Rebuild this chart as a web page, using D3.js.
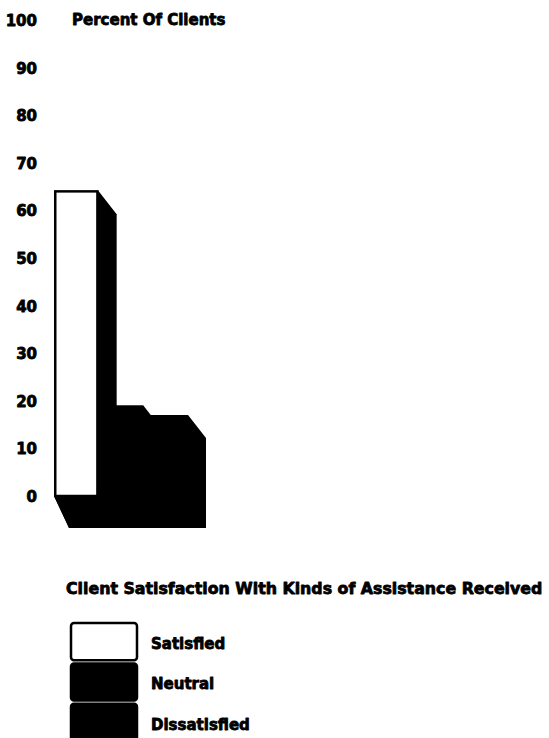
<!DOCTYPE html>
<html>
<head>
<meta charset="utf-8">
<script src="https://cdn.jsdelivr.net/npm/d3@7"></script>
<style>
  html, body { margin: 0; padding: 0; background: #fff; }
  svg { display: block; }
  text { font-family: "DejaVu Sans", sans-serif; font-weight: bold; fill: #000; stroke: #000; stroke-width: 0.8px; stroke-linejoin: round; }
</style>
</head>
<body>
<script>
// Client satisfaction shares (percent of clients)
const categories = ["Satisfied", "Neutral", "Dissatisfied"];
const values = [64, 19, 17];
const fills = ["#fff", "#000", "#000"];
const tickValues = [0, 10, 20, 30, 40, 50, 60, 70, 80, 90, 100];
const axisTitle = "Percent Of Clients";
const legendTitle = "Client Satisfaction With Kinds of Assistance Received";

const W = 549, H = 738;
const svg = d3.select("body").append("svg").attr("width", W).attr("height", H);

const y = d3.scaleLinear().domain([0, 100]).range([496, 20]);
const x = d3.scaleBand().domain(categories).range([54, 188]).padding(0);

// 3-D extrusion offsets
const dx = 18, dy = 23;       // top/back edge
const fdx = 15, fdy = 32;     // floor under the bars

// Value axis: labels only, right-aligned
const axis = d3.axisLeft(y).tickValues(tickValues).tickSize(0).tickPadding(0);
const gAxis = svg.append("g").attr("transform", "translate(37,0)").call(axis);
gAxis.select(".domain").remove();
gAxis.selectAll("text")
  .attr("dy", "0.36em")
  .style("font-size", "15px")
  .style("font-family", "'DejaVu Sans', sans-serif");

svg.append("text")
  .attr("x", 72).attr("y", y(100))
  .attr("dy", "0.36em")
  .style("font-size", "15px")
  .text(axisTitle);

const base = y(0);
const last = categories[categories.length - 1];
const x0 = x(categories[0]);
const xEnd = x(last) + x.bandwidth();

// Floor beneath the bars
svg.append("path")
  .attr("d", d3.line()([
    [x0, base], [x0 + fdx, base + fdy], [xEnd + dx, base + fdy],
    [xEnd + dx, y(values[values.length - 1]) + dy], [xEnd, base]
  ]))
  .attr("fill", "#000");

// Side/back faces of each bar
categories.forEach((c, i) => {
  const left = x(c), right = left + x.bandwidth(), top = y(values[i]);
  svg.append("path")
    .attr("d", d3.line()([
      [left, top], [right, top], [right + dx, top + dy],
      [right + dx, base + fdy], [left + fdx, base + fdy], [left, base]
    ]))
    .attr("fill", "#000");
});

// Front faces, drawn last so the first bar sits in front
const fronts = categories.map((c, i) => ({ c, v: values[i], f: fills[i] })).reverse();
svg.selectAll("rect.front").data(fronts).join("rect")
  .attr("class", "front")
  .attr("x", d => x(d.c) + (d.f === "#fff" ? 1.25 : 0))
  .attr("y", d => y(d.v))
  .attr("width", d => x.bandwidth() - (d.f === "#fff" ? 2.5 : 0))
  .attr("height", d => base - y(d.v))
  .attr("fill", d => d.f)
  .attr("stroke", "#000")
  .attr("stroke-width", d => d.f === "#fff" ? 2.5 : 0);

// Legend
svg.append("text")
  .attr("x", 66).attr("y", 588)
  .attr("dy", "0.36em")
  .style("font-size", "15.8px")
  .text(legendTitle);

const legendY = d3.scaleBand().domain(categories).range([623, 741]).paddingInner(0.08);
const lg = svg.selectAll("g.legend").data(categories).join("g").attr("class", "legend");
lg.append("rect")
  .attr("x", 71).attr("y", d => legendY(d))
  .attr("width", 66).attr("height", legendY.bandwidth())
  .attr("rx", 3)
  .attr("fill", (d, i) => fills[i])
  .attr("stroke", "#000").attr("stroke-width", 2.5);
lg.append("text")
  .attr("x", 151).attr("y", d => legendY(d) + legendY.bandwidth() / 2 + 2)
  .attr("dy", "0.36em")
  .style("font-size", "15px")
  .text(d => d);
</script>
</body>
</html>
